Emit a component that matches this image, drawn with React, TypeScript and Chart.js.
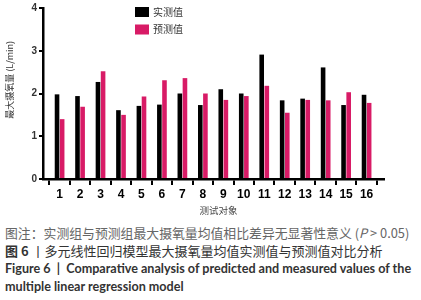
import React, { useEffect, useRef } from "react";
import { Chart, registerables } from "chart.js";

Chart.register(...registerables);

const categories = ["1", "2", "3", "4", "5", "6", "7", "8", "9", "10", "11", "12", "13", "14", "15", "16"];
const measured = [1.98, 1.94, 2.27, 1.61, 1.71, 1.74, 2.0, 1.73, 2.1, 2.0, 2.91, 1.84, 1.88, 2.61, 1.73, 1.97];
const predicted = [1.4, 1.69, 2.52, 1.5, 1.93, 2.31, 2.36, 2.0, 1.85, 1.94, 2.18, 1.55, 1.85, 1.84, 2.03, 1.78];
const seriesNames = ["实测值", "预测值"];
const seriesColors = ["#000000", "#d81b66"];
const yTicks = [0, 1, 2, 3, 4];
const yTitle = "最大摄氧量 (L/min)";
const xTitle = "测试对象";

const legendAndTitles = {
  id: "legendAndTitles",
  afterDraw(chart: any) {
    const { ctx, chartArea } = chart;
    ctx.save();
    // legend
    const lx = chartArea.left + 92;
    seriesNames.forEach((name, i) => {
      const ly = chartArea.top - 1 + i * 17.5;
      ctx.fillStyle = seriesColors[i];
      ctx.fillRect(lx, ly, 14, 10);
      ctx.fillStyle = "#333";
      ctx.font = "10px 'Noto Sans CJK SC'";
      ctx.textBaseline = "middle";
      ctx.textAlign = "left";
      ctx.fillText(name, lx + 18, ly + 5);
    });
    // y title
    ctx.translate(10, chartArea.top + (chartArea.bottom - chartArea.top) * 0.42);
    ctx.rotate(-Math.PI / 2);
    ctx.fillStyle = "#333";
    ctx.font = "9px 'Noto Sans CJK SC'";
    ctx.textAlign = "center";
    ctx.textBaseline = "middle";
    ctx.fillText(yTitle, 0, 0);
    ctx.restore();
    ctx.save();
    ctx.fillStyle = "#444";
    ctx.font = "9.5px 'Noto Sans CJK SC'";
    ctx.textAlign = "center";
    ctx.textBaseline = "middle";
    ctx.fillText(xTitle, (chartArea.left + chartArea.right) / 2 + 5, chartArea.bottom + 31);
    ctx.restore();
  },
};

export default function App() {
  const ref = useRef<HTMLCanvasElement>(null);
  useEffect(() => {
    document.body.style.margin = "0";
    const chart = new Chart(ref.current!, {
      type: "bar",
      data: {
        datasets: [
          {
            label: seriesNames[0],
            data: measured.map((v, i) => ({ x: i + 1, y: v })),
            backgroundColor: seriesColors[0],
            categoryPercentage: 0.5,
            barPercentage: 0.9,
          },
          {
            label: seriesNames[1],
            data: predicted.map((v, i) => ({ x: i + 1, y: v })),
            backgroundColor: seriesColors[1],
            categoryPercentage: 0.5,
            barPercentage: 0.9,
          },
        ],
      },
      options: {
        animation: false,
        responsive: false,
        layout: { padding: { top: 6, right: 37, left: 0, bottom: 0 } },
        plugins: { legend: { display: false }, tooltip: { enabled: false } },
        scales: {
          x: {
            type: "linear",
            min: 0.71,
            max: 16.33,
            afterBuildTicks: (s: any) => {
              s.ticks = categories.map((_, i) => ({ value: i + 1 }));
            },
            afterFit: (s: any) => {
              s.height = 37;
            },
            ticks: {
              callback: (v: any) => categories[Math.round(v) - 1],
              color: "#000",
              font: { family: "Liberation Sans", size: 12, weight: "bold" },
              padding: 2,
              maxRotation: 0,
              autoSkip: false,
            },
            grid: { drawOnChartArea: false, drawTicks: true, tickLength: 6, tickWidth: 2, tickColor: "#000", lineWidth: 2, color: "#000" },
            border: { display: true, color: "#000", width: 2.5 },
          },
          y: {
            min: 0,
            max: 4,
            afterBuildTicks: (s: any) => {
              s.ticks = yTicks.map((v) => ({ value: v }));
            },
            afterFit: (s: any) => {
              s.width = 43;
            },
            ticks: {
              color: "#333",
              font: { family: "Liberation Sans", size: 10, weight: "bold" },
              padding: 2,
            },
            grid: { drawOnChartArea: false, drawTicks: true, tickLength: 4, tickWidth: 2, tickColor: "#000", lineWidth: 2, color: "#000" },
            border: { display: true, color: "#000", width: 2.5 },
          },
        },
      },
      plugins: [legendAndTitles],
    } as any);
    return () => chart.destroy();
  }, []);

  const cap: React.CSSProperties = { margin: 0, paddingLeft: 5, lineHeight: "18px", whiteSpace: "nowrap" };
  return (
    <div style={{ width: 421, height: 300, overflow: "hidden", background: "#fff" }}>
      <canvas ref={ref} width={421} height={216} style={{ display: "block" }} />
      <div style={{ marginTop: 8 }}>
        <div style={{ ...cap, fontFamily: "'Noto Sans CJK SC'", fontSize: 12.85, color: "#666" }}>
          图注：实测组与预测组最大摄氧量均值相比差异无显著性意义 (<i>P</i> &gt; 0.05)
        </div>
        <div style={{ ...cap, fontFamily: "'Noto Sans CJK SC'", fontSize: 13, color: "#333" }}>
          <b>图 6</b> 丨多元线性回归模型最大摄氧量均值实测值与预测值对比分析
        </div>
        <div style={{ ...cap, fontFamily: "Lato", fontSize: 12.6, fontWeight: "bold", color: "#333" }}>
          Figure 6 &nbsp;|&nbsp; Comparative analysis of predicted and measured values of the
        </div>
        <div style={{ ...cap, fontFamily: "Lato", fontSize: 12.6, fontWeight: "bold", color: "#333" }}>
          multiple linear regression model
        </div>
      </div>
    </div>
  );
}
